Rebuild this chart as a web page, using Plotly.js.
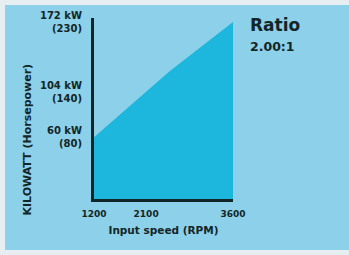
<!DOCTYPE html>
<html>
<head>
<meta charset="utf-8">
<script src="https://cdn.plot.ly/plotly-3.0.1.min.js"></script>
<style>html,body{margin:0;padding:0;}#chart{width:349px;height:255px;}</style>
</head>
<body>
<div id="chart"></div>
<script>
const rpm = [1200, 2100, 2500, 3600];
const kW = [60, 104, 124, 172];
const yTickVals = [60, 104, 172];
const yTickText = ['60 kW<br>(80)', '104 kW<br>(140)', '172 kW<br>(230)'];
const xTickVals = [1200, 2100, 3600];
const xTickText = ['1200', '2100', '3600'];
const ratioTitle = 'Ratio';
const ratioValue = '2.00:1';

const panel = '#8dd0e9';
const dark = '#132627';
const font = 'DejaVu Sans';

const trace = {
  x: rpm, y: kW, type: 'scatter', mode: 'lines',
  fill: 'tozeroy', fillcolor: '#1db6dd',
  line: {width: 0, color: '#1db6dd'},
  hoverinfo: 'skip'
};

const layout = {
  width: 349, height: 255,
  margin: {l: 94, r: 116, t: 18, b: 56},
  paper_bgcolor: '#e7eef1',
  plot_bgcolor: panel,
  showlegend: false,
  xaxis: {
    range: [1200, 3600], showgrid: false, zeroline: false,
    showline: true, linecolor: dark, linewidth: 3,
    tickvals: xTickVals, ticktext: xTickText, ticks: '',
    ticklabelstandoff: 4,
    tickfont: {family: font, size: 9, color: dark, weight: 'bold'},
    title: {text: 'Input speed (RPM)', standoff: 9,
      font: {family: font, size: 10.5, color: dark, weight: 'bold'}}
  },
  yaxis: {
    range: [0, 176], showgrid: false, zeroline: false,
    showline: true, linecolor: dark, linewidth: 3,
    tickvals: yTickVals, ticktext: yTickText, ticks: '',
    ticklabelstandoff: 7,
    tickfont: {family: font, size: 10, color: dark, weight: 'bold'}
  },
  shapes: [{
    type: 'rect', xref: 'paper', yref: 'paper', layer: 'below',
    x0: -0.64, x1: 1.84, y0: -0.282, y1: 1.072,
    fillcolor: panel, line: {width: 0}
  }],
  annotations: [
    {text: 'KILOWATT (Horsepower)', textangle: -90, xref: 'paper', yref: 'paper',
     x: -0.48, y: 0.33, xanchor: 'center', yanchor: 'middle', showarrow: false,
     font: {family: font, size: 11, color: dark, weight: 'bold'}},
    {text: ratioTitle, xref: 'paper', yref: 'paper', x: 1.11, y: 1.03,
     xanchor: 'left', yanchor: 'top', showarrow: false,
     font: {family: font, size: 17, color: dark, weight: 'bold'}},
    {text: ratioValue, xref: 'paper', yref: 'paper', x: 1.11, y: 0.895,
     xanchor: 'left', yanchor: 'top', showarrow: false,
     font: {family: font, size: 12.5, color: dark, weight: 'bold'}}
  ]
};

Plotly.newPlot('chart', [trace], layout, {displayModeBar: false, staticPlot: true});
</script>
</body>
</html>
